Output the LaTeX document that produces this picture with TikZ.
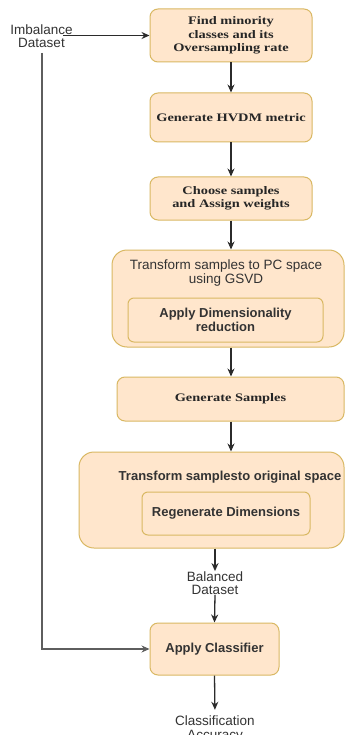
\documentclass[tikz,border=0pt]{standalone}
\usepackage{fontspec}
\setmainfont{Liberation Serif}
\newfontfamily\serifw[FakeStretch=1.25]{Liberation Serif}
\newfontfamily\sansf{Liberation Sans}
\usetikzlibrary{arrows.meta}
\definecolor{boxfill}{HTML}{FFE6CC}
\definecolor{boxdraw}{HTML}{D9B863}
\definecolor{txt}{HTML}{333333}
\definecolor{linec}{HTML}{2B2B2B}
\definecolor{leftc}{HTML}{5E5E5E}
\begin{document}
\begin{tikzpicture}[x=1pt,y=-1pt,
  box/.style={draw=boxdraw, fill=boxfill, line width=1pt, rounded corners=8pt, inner sep=0pt, text=txt},
  serifbox/.style={box, text=black!85, font=\serifw\bfseries\fontsize{11.5}{13.3}\selectfont, align=center},
  sansbox/.style={box, font=\sansf\bfseries\fontsize{13}{14}\selectfont, align=center},
  outerbox/.style={box, rounded corners=15pt},
  lbl/.style={text=txt, font=\sansf\fontsize{13.5}{13.5}\selectfont, align=center, inner sep=0pt},
  boldlbl/.style={text=txt, font=\sansf\bfseries\fontsize{13}{14}\selectfont, align=center, inner sep=0pt},
  arr/.style={draw=linec, line width=1.3pt, -{Stealth[length=8pt,width=7pt]}},
  leftarr/.style={draw=leftc, line width=1.3pt, -{Stealth[length=8pt,width=7pt]}},
]
\useasboundingbox[fill=white] (0,0) rectangle (345,735);

\node[serifbox, minimum width=162pt, minimum height=53pt] (b1) at (231,35.5) {Find minority\\classes and its\\Oversampling rate};
\node[serifbox, minimum width=162pt, minimum height=49pt] (b2) at (231,117.5) {Generate HVDM metric};
\node[serifbox, minimum width=162pt, minimum height=43pt] (b3) at (231,198.5) {Choose samples\\and Assign weights};

\node[outerbox, minimum width=232pt, minimum height=97pt] (b4) at (228,298.5) {};
\node[lbl, font=\sansf\fontsize{13.5}{14}\selectfont] (b4t) at (226,273) {Transform samples to PC space\\using GSVD};
\node[sansbox, rounded corners=6pt, minimum width=195pt, minimum height=44pt] (b4i) at (225.5,320) {Apply Dimensionality\\reduction};

\node[serifbox, minimum width=227pt, minimum height=44pt] (b5) at (230.5,399) {Generate Samples};

\node[outerbox, minimum width=265pt, minimum height=96pt] (b6) at (211.5,500) {};
\node[boldlbl] (b6t) at (230,477) {Transform samplesto original space};
\node[sansbox, rounded corners=6pt, minimum width=168pt, minimum height=43pt] (b6i) at (226,513.5) {Regenerate Dimensions};

\node[lbl] (bal) at (215,583) {Balanced\\Dataset};
\node[sansbox, minimum width=129pt, minimum height=52pt] (b7) at (214.5,649) {Apply Classifier};
\node[lbl] (acc) at (215,729) {Classification\\Accuracy};

\node[lbl] (imb) at (41.5,36) {Imbalance\\Dataset};
\coordinate (imbout) at (63,35.5);
\coordinate (ls) at (42,53);

\draw[arr] (imbout) -- (b1.west);
\draw[arr] (b1.south) -- (b2.north);
\draw[arr] (b2.south) -- (b3.north);
\draw[arr] (b3.south) -- (b4.north -| b3.south);
\draw[arr] (b4.south -| b3.south) -- (b5.north -| b3.south);
\draw[arr] (b5.south -| b3.south) -- (b6.north -| b3.south);
\draw[arr] (b6.south -| bal.north) -- (bal.north);
\draw[arr] (bal.south) -- (b7.north);
\draw[arr, shorten >=6pt] (b7.south) -- (acc.north);
\draw[leftarr] (ls) |- (b7.west);
\end{tikzpicture}
\end{document}
